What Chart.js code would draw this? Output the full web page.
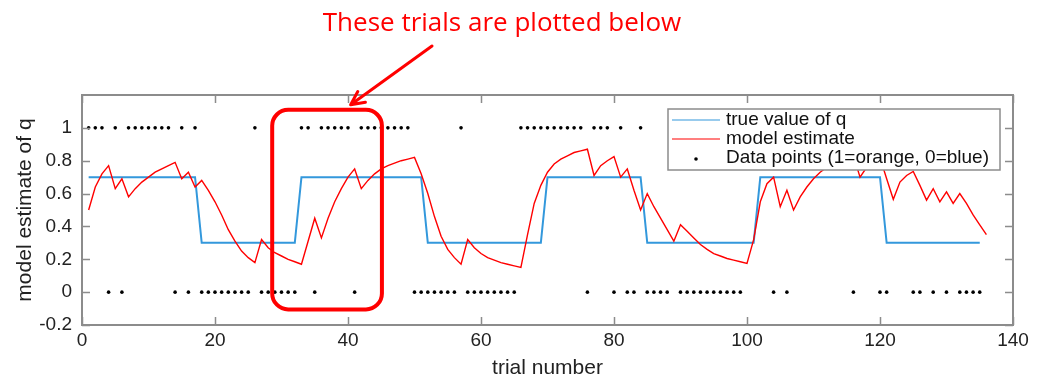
<!DOCTYPE html>
<html>
<head>
<meta charset="utf-8">
<script src="https://cdn.jsdelivr.net/npm/chart.js@4.4.1/dist/chart.umd.min.js"></script>
<style>
  html, body { margin: 0; padding: 0; background: #fff; }
  canvas { display: block; }
</style>
</head>
<body>
<canvas id="chart1" width="1055" height="387"></canvas>
<script>
        // values (trial 1 .. n)
        const trueQ = [
            0.7, 0.7, 0.7, 0.7, 0.7, 0.7, 0.7, 0.7, 0.7, 0.7, 0.7, 0.7, 0.7, 0.7, 0.7, 0.7, 0.7,
            0.3, 0.3, 0.3, 0.3, 0.3, 0.3, 0.3, 0.3, 0.3, 0.3, 0.3, 0.3, 0.3, 0.3, 0.3,
            0.7, 0.7, 0.7, 0.7, 0.7, 0.7, 0.7, 0.7, 0.7, 0.7, 0.7, 0.7, 0.7, 0.7, 0.7, 0.7, 0.7, 0.7, 0.7,
            0.3, 0.3, 0.3, 0.3, 0.3, 0.3, 0.3, 0.3, 0.3, 0.3, 0.3, 0.3, 0.3, 0.3, 0.3, 0.3, 0.3, 0.3,
            0.7, 0.7, 0.7, 0.7, 0.7, 0.7, 0.7, 0.7, 0.7, 0.7, 0.7, 0.7, 0.7, 0.7, 0.7,
            0.3, 0.3, 0.3, 0.3, 0.3, 0.3, 0.3, 0.3, 0.3, 0.3, 0.3, 0.3, 0.3, 0.3, 0.3, 0.3, 0.3,
            0.7, 0.7, 0.7, 0.7, 0.7, 0.7, 0.7, 0.7, 0.7, 0.7, 0.7, 0.7, 0.7, 0.7, 0.7, 0.7, 0.7, 0.7, 0.7,
            0.3, 0.3, 0.3, 0.3, 0.3, 0.3, 0.3, 0.3, 0.3, 0.3, 0.3, 0.3, 0.3, 0.3, 0.3
        ];

        const modelEstimate = [
            0.50, 0.64, 0.72, 0.77, 0.63, 0.69, 0.58, 0.63, 0.67, 0.70,
            0.73, 0.75, 0.77, 0.79, 0.69, 0.73, 0.64, 0.68, 0.62, 0.55,
            0.47, 0.38, 0.31, 0.25, 0.21, 0.18, 0.32, 0.27, 0.24, 0.22,
            0.20, 0.185, 0.17, 0.31, 0.45, 0.33, 0.45, 0.55, 0.63, 0.70,
            0.75, 0.63, 0.68, 0.72, 0.75, 0.77, 0.785, 0.80, 0.81, 0.82,
            0.72, 0.60, 0.46, 0.34, 0.26, 0.21, 0.17, 0.32, 0.27, 0.235,
            0.21, 0.195, 0.18, 0.17, 0.16, 0.15, 0.35, 0.54, 0.65, 0.73,
            0.78, 0.81, 0.83, 0.85, 0.86, 0.87, 0.71, 0.77, 0.80, 0.825,
            0.70, 0.75, 0.62, 0.50, 0.60, 0.52, 0.45, 0.38, 0.31, 0.41,
            0.37, 0.33, 0.29, 0.26, 0.235, 0.22, 0.205, 0.195, 0.185, 0.175,
            0.32, 0.55, 0.66, 0.70, 0.52, 0.62, 0.50, 0.58, 0.64, 0.69,
            0.73, 0.76, 0.78, 0.80, 0.82, 0.83, 0.70, 0.76, 0.80, 0.82,
            0.69, 0.565, 0.67, 0.71, 0.735, 0.65, 0.56, 0.63, 0.55, 0.61,
            0.54, 0.60, 0.54, 0.47, 0.41, 0.35
        ];

        // trials where the data point was 1 (orange) or 0 (blue)
        const onesTrials = [
            1, 2, 3, 5, 7, 8, 9, 10, 11, 12, 13, 15, 17, 26, 33, 34, 36, 37, 38, 39, 40,
            42, 43, 44, 45, 46, 47, 48, 49, 57, 66, 67, 68, 69, 70, 71, 72, 73, 74, 75,
            77, 78, 79, 81, 84, 89, 100, 101, 102, 103, 105, 107, 108, 109, 110, 111,
            112, 113, 114, 115, 117, 118, 119, 122, 123, 124, 127, 129, 131
        ];
        const zerosTrials = [
            4, 6, 14, 16, 18, 19, 20, 21, 22, 23, 24, 25, 27, 28, 29, 30, 31, 32, 35, 41,
            50, 51, 52, 53, 54, 55, 56, 58, 59, 60, 61, 62, 63, 64, 65, 76, 80, 82, 83,
            85, 86, 87, 88, 90, 91, 92, 93, 94, 95, 96, 97, 98, 99, 104, 106, 116, 120,
            121, 125, 126, 128, 130, 132, 133, 134, 135
        ];

        const xTicks = [0, 20, 40, 60, 80, 100, 120, 140];
        const yTicks = [-0.2, 0, 0.2, 0.4, 0.6, 0.8, 1];
        const seriesNames = ['true value of q', 'model estimate', 'Data points (1=orange, 0=blue)'];
        const noteText = 'These trials are plotted below';
        const boxTrials = [28.6, 45.1];
        const boxValues = [-0.105, 1.11];

        const fontFamily = "'Liberation Sans', Arial, sans-serif";
        const blue = '#3398dc';
        const red = '#ff0000';

        // frame with inward ticks, legend box and the red note
        const decorations = {
            id: 'decorations',
            afterDatasetsDraw(chart) {
                const c = chart.ctx;
                const a = chart.chartArea;
                const xs = chart.scales.x;
                const ys = chart.scales.y;

                // axes box
                c.save();
                c.strokeStyle = '#8c8c8c';
                c.lineWidth = 2;
                c.strokeRect(a.left, a.top, a.right - a.left, a.bottom - a.top);
                c.lineWidth = 1.5;
                c.beginPath();
                xTicks.forEach(v => {
                    const px = Math.round(xs.getPixelForValue(v)) + 0.5;
                    c.moveTo(px, a.bottom); c.lineTo(px, a.bottom - 8);
                    c.moveTo(px, a.top); c.lineTo(px, a.top + 8);
                });
                yTicks.forEach(v => {
                    const py = Math.round(ys.getPixelForValue(v)) + 0.5;
                    c.moveTo(a.left, py); c.lineTo(a.left + 8, py);
                    c.moveTo(a.right, py); c.lineTo(a.right - 8, py);
                });
                c.stroke();
                c.restore();

                // legend
                const bx = a.right - 345, by = a.top + 14, bw = 332, bh = 61;
                c.save();
                c.fillStyle = '#fff';
                c.fillRect(bx, by, bw, bh);
                c.strokeStyle = '#8c8c8c';
                c.lineWidth = 1.5;
                c.strokeRect(bx, by, bw, bh);
                c.font = '19px ' + fontFamily;
                c.textBaseline = 'middle';
                const rowY = [by + 11, by + 30, by + 49];
                c.lineWidth = 1.2;
                c.strokeStyle = blue;
                c.beginPath(); c.moveTo(bx + 4, rowY[0]); c.lineTo(bx + 52, rowY[0]); c.stroke();
                c.strokeStyle = red;
                c.beginPath(); c.moveTo(bx + 4, rowY[1]); c.lineTo(bx + 52, rowY[1]); c.stroke();
                c.fillStyle = '#000';
                c.beginPath(); c.arc(bx + 28, rowY[2] + 1, 1.8, 0, Math.PI * 2); c.fill();
                c.fillStyle = '#111';
                seriesNames.forEach((t, i) => c.fillText(t, bx + 58, rowY[i]));
                c.restore();

                // highlighted window and arrow
                const x0 = xs.getPixelForValue(boxTrials[0]);
                const x1 = xs.getPixelForValue(boxTrials[1]);
                const y0 = ys.getPixelForValue(boxValues[1]);
                const y1 = ys.getPixelForValue(boxValues[0]);
                c.save();
                c.strokeStyle = red;
                c.lineWidth = 4;
                c.beginPath();
                c.roundRect(x0, y0, x1 - x0, y1 - y0, 16);
                c.stroke();

                const tipX = xs.getPixelForValue(40.4), tipY = y0 - 5;
                const tailX = 432, tailY = 46;
                c.lineWidth = 3;
                c.lineCap = 'round';
                c.beginPath();
                c.moveTo(tailX, tailY); c.lineTo(tipX, tipY);
                const ang = Math.atan2(tipY - tailY, tipX - tailX);
                c.moveTo(tipX, tipY);
                c.lineTo(tipX - 15 * Math.cos(ang - 0.45), tipY - 15 * Math.sin(ang - 0.45));
                c.moveTo(tipX, tipY);
                c.lineTo(tipX - 15 * Math.cos(ang + 0.45), tipY - 15 * Math.sin(ang + 0.45));
                c.stroke();

                c.fillStyle = red;
                c.font = "26px 'Open Sans', sans-serif";
                c.textAlign = 'center';
                c.textBaseline = 'middle';
                c.fillText(noteText, 502, 24, 362);
                c.restore();
            }
        };

        const ctx1 = document.getElementById('chart1');

        new Chart(ctx1, {
        type: 'line',
        data: {
            datasets: [{
                label: seriesNames[2],
                data: onesTrials.map(t => ({ x: t, y: 1 })).concat(zerosTrials.map(t => ({ x: t, y: 0 }))),
                showLine: false,
                pointRadius: 1.8,
                pointBackgroundColor: '#000',
                pointBorderWidth: 0,
                order: 0
            }, {
                label: seriesNames[1],
                data: modelEstimate.map((v, i) => ({ x: i + 1, y: v })),
                borderColor: red,
                borderWidth: 1.4,
                pointRadius: 0,
                tension: 0,
                order: 1
            }, {
                label: seriesNames[0],
                data: trueQ.map((v, i) => ({ x: i + 1, y: v })),
                borderColor: blue,
                borderWidth: 2,
                pointRadius: 0,
                tension: 0,
                order: 2
            }]
        },
        plugins: [decorations],
        options: {
            responsive: false,
            animation: false,
            layout: {
                padding: { top: 95, right: 42, left: 0, bottom: 0 }
            },
            font: { family: fontFamily },
            plugins: {
                legend: { display: false },
                tooltip: { enabled: false },
            },
            scales: {
                x: {
                    type: 'linear',
                    min: 0,
                    max: 140,
                    afterBuildTicks: s => { s.ticks = xTicks.map(v => ({ value: v })); },
                    afterFit: s => { s.height = 62; },
                    grid: { display: false, drawTicks: false },
                    border: { display: false },
                    ticks: {
                        padding: 4,
                        color: '#222',
                        maxRotation: 0,
                        font: { family: fontFamily, size: 19 }
                    },
                    title: {
                        display: true,
                        text: 'trial number',
                        color: '#222',
                        padding: { top: 0, bottom: 6 },
                        font: { family: fontFamily, size: 21 }
                    }
                },
                y: {
                    min: -0.2,
                    max: 1.2,
                    afterBuildTicks: s => { s.ticks = yTicks.map(v => ({ value: v })); },
                    afterFit: s => { s.width = 82; },
                    grid: { display: false, drawTicks: false },
                    border: { display: false },
                    ticks: {
                        padding: 10,
                        color: '#222',
                        font: { family: fontFamily, size: 19 },
                        callback: v => String(Math.round(v * 10) / 10)
                    },
                    title: {
                        display: true,
                        text: 'model estimate of q',
                        color: '#222',
                        padding: { top: 13, bottom: 0 },
                        font: { family: fontFamily, size: 21 }
                    }
                }
            }
        }
        });
</script>
</body>
</html>
